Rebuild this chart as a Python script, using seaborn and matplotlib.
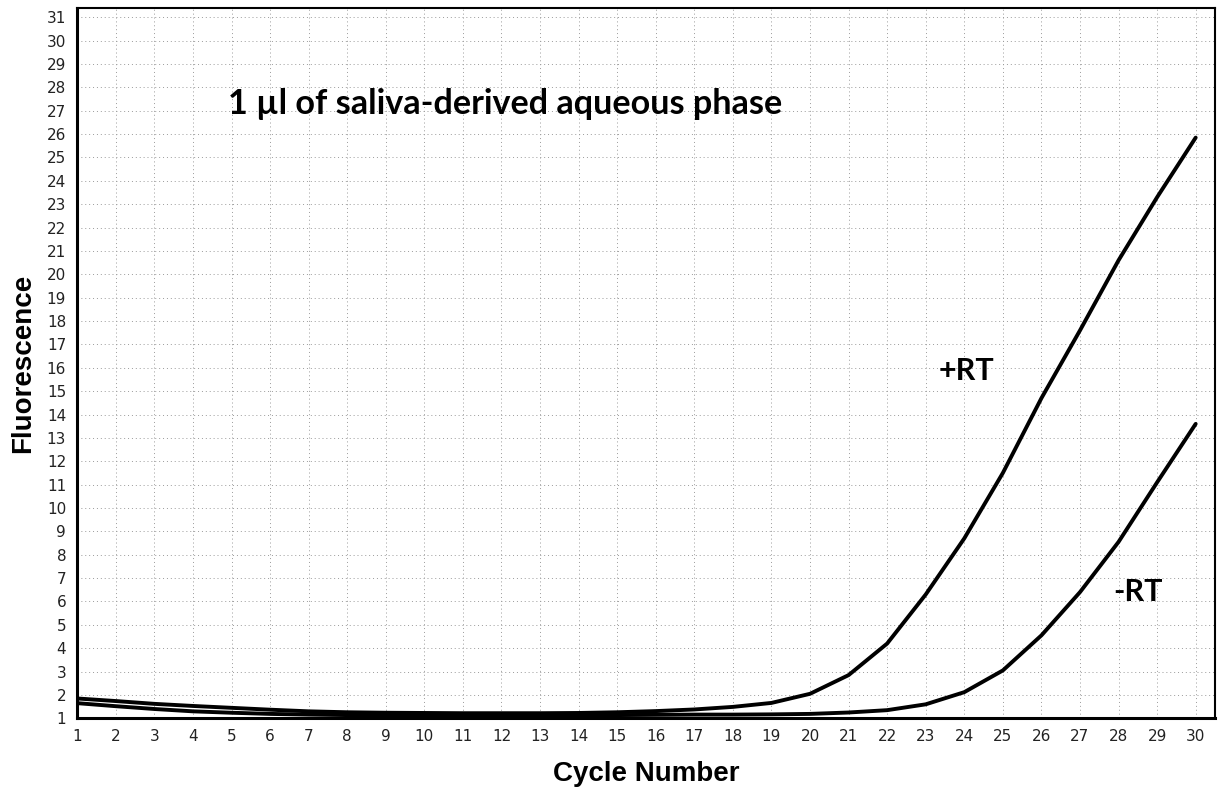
import matplotlib

matplotlib.use("Agg")
import matplotlib.pyplot as plt
import numpy as np
import pandas as pd
import seaborn as sns

# --- data ---
cycles = list(range(1, 31))
plus_rt = [1.85, 1.74, 1.62, 1.53, 1.45, 1.37, 1.30, 1.26, 1.24, 1.23,
           1.22, 1.22, 1.22, 1.23, 1.26, 1.31, 1.38, 1.49, 1.66, 2.05,
           2.85, 4.20, 6.30, 8.70, 11.5, 14.7, 17.6, 20.6, 23.3, 25.85]
minus_rt = [1.65, 1.52, 1.40, 1.30, 1.24, 1.19, 1.16, 1.14, 1.13, 1.13,
            1.13, 1.13, 1.13, 1.13, 1.14, 1.15, 1.16, 1.16, 1.17, 1.19,
            1.25, 1.35, 1.60, 2.12, 3.05, 4.55, 6.40, 8.55, 11.1, 13.6]
series_names = ["+RT", "-RT"]
y_ticks = list(range(1, 32))
title_text = "1 \u00b5l of saliva-derived aqueous phase"

df = pd.DataFrame({
    "cycle": cycles * 2,
    "fluorescence": plus_rt + minus_rt,
    "sample": [series_names[0]] * len(cycles) + [series_names[1]] * len(cycles),
})

sns.set_style("white")

fig = plt.figure(figsize=(12.26, 7.92), dpi=100)
ax = fig.add_axes([0.063, 0.093, 0.928, 0.897])

sns.lineplot(
    data=df,
    x="cycle",
    y="fluorescence",
    hue="sample",
    palette=["black", "black"],
    linewidth=2.8,
    legend=False,
    ax=ax,
)

ax.set_xlim(1, 30.5)
ax.set_ylim(1, 31.4)
ax.set_xticks(cycles)
ax.set_yticks(y_ticks)
ax.tick_params(axis="both", labelsize=11, length=3, width=0.8, colors="#222222", pad=5)
ax.grid(True, linestyle=(0, (1, 3)), color="#9a9a9a", linewidth=0.7)
ax.set_axisbelow(True)

for name, spine in ax.spines.items():
    spine.set_visible(True)
    spine.set_color("black")
    spine.set_linewidth(2.2 if name in ("left", "bottom") else 1.5)

ax.set_xlabel("Cycle Number", fontsize=20, fontweight="bold", color="black",
              family="Liberation Sans", labelpad=12)
ax.set_ylabel("Fluorescence", fontsize=20, fontweight="bold", color="black",
              family="Liberation Sans", labelpad=8)

ax.text(4.9, 27.3, title_text, fontsize=24.6, fontweight="bold", color="black",
        family="Lato", ha="left", va="center")
ax.text(24.06, 15.85, series_names[0], fontsize=22, fontweight="bold",
        color="black", family="Lato", ha="center", va="center")
ax.text(28.5, 6.4, series_names[1], fontsize=22, fontweight="bold",
        color="black", family="Lato", ha="center", va="center")

plt.savefig("out.png", dpi=100)
plt.close(fig)
